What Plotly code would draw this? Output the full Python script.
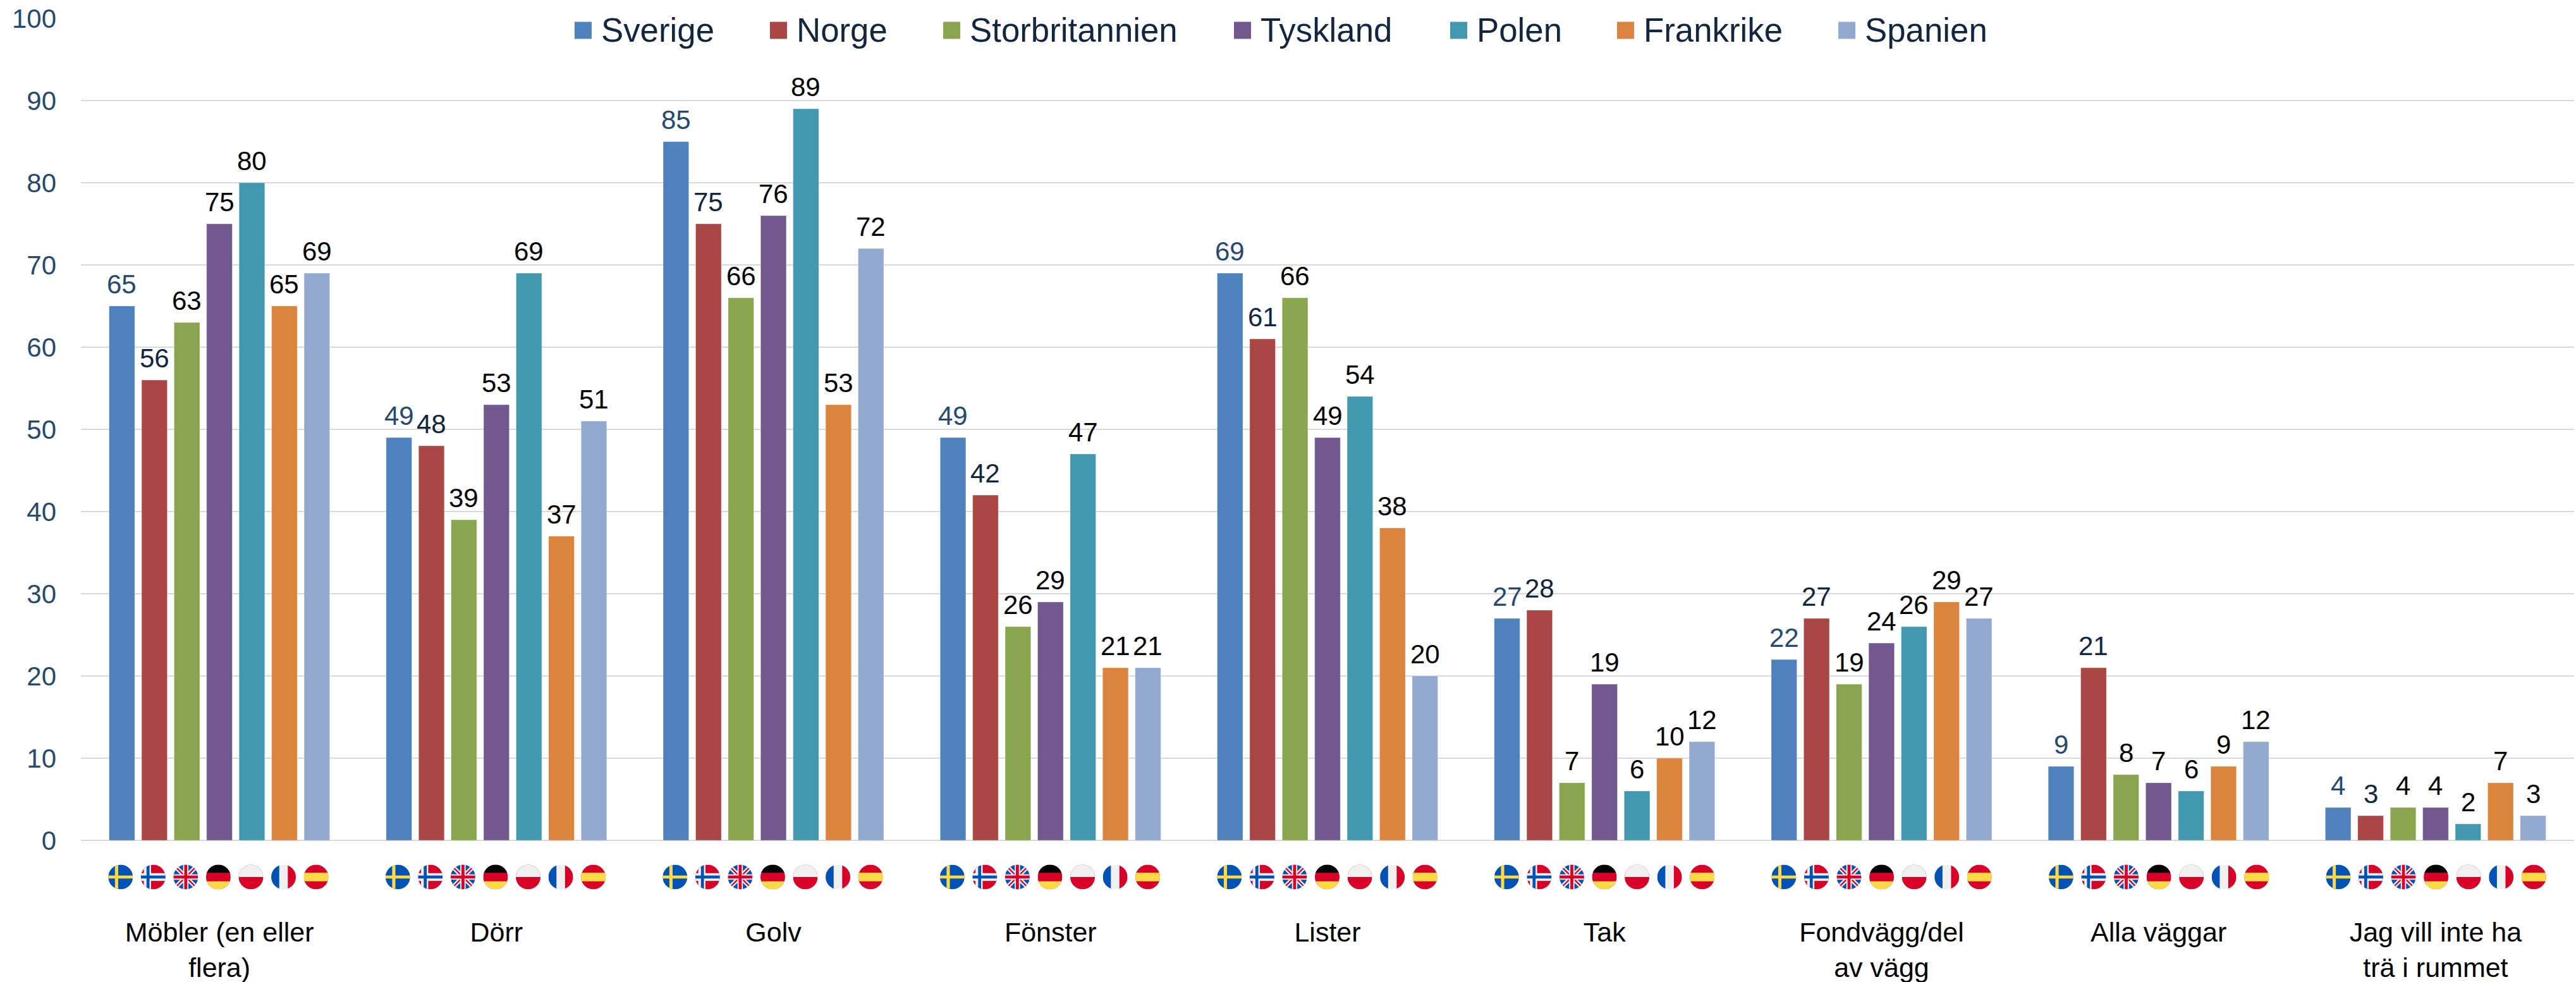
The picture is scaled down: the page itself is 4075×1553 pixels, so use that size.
import base64
import plotly.graph_objects as go

categories = ["Möbler (en eller<br>flera)", "Dörr", "Golv", "Fönster", "Lister", "Tak",
              "Fondvägg/del<br>av vägg", "Alla väggar", "Jag vill inte ha<br>trä i rummet"]
sverige = [65, 49, 85, 49, 69, 27, 22, 9, 4]
norge = [56, 48, 75, 42, 61, 28, 27, 21, 3]
storbritannien = [63, 39, 66, 26, 66, 7, 19, 8, 4]
tyskland = [75, 53, 76, 29, 49, 19, 24, 7, 4]
polen = [80, 69, 89, 47, 54, 6, 26, 6, 2]
frankrike = [65, 37, 53, 21, 38, 10, 29, 9, 7]
spanien = [69, 51, 72, 21, 20, 12, 27, 12, 3]
series_names = ["Sverige", "Norge", "Storbritannien", "Tyskland", "Polen", "Frankrike", "Spanien"]
series_values = [sverige, norge, storbritannien, tyskland, polen, frankrike, spanien]
colors = ["#4F81BD", "#AA4644", "#89A54E", "#71588F", "#4198AF", "#DB843D", "#93A9CF"]
label_colors = ["#264A6E", "#12263F", "#000000", "#000000", "#000000", "#000000", "#000000"]
tick_values = [0, 10, 20, 30, 40, 50, 60, 70, 80, 90, 100]

W, H = 4075, 1553
L, R, T, B = 128.1, 4071.9, 28.5, 1329.3
PW, PH = R - L, B - T
GROUP = PW / len(categories)
SLOT = 51.4


def svg_uri(body):
    svg = ('<svg xmlns="http://www.w3.org/2000/svg" width="512" height="512" viewBox="0 0 512 512">'
           '<defs><clipPath id="c"><circle cx="256" cy="256" r="256"/></clipPath></defs>'
           '<g clip-path="url(#c)">' + body + '</g></svg>')
    return "data:image/svg+xml;base64," + base64.b64encode(svg.encode()).decode()


BL, YE, RE, LI = "#0052B4", "#FFDA44", "#D80027", "#F0F0F0"
flags = [
    svg_uri(f'<rect width="512" height="512" fill="{BL}"/><rect x="139" width="67" height="512" fill="{YE}"/>'
            f'<rect y="225" width="512" height="62" fill="{YE}"/>'),
    svg_uri(f'<rect width="512" height="512" fill="{RE}"/><rect x="62" width="150" height="512" fill="{LI}"/>'
            f'<rect y="175" width="512" height="162" fill="{LI}"/><rect x="118" width="62" height="512" fill="{BL}"/>'
            f'<rect y="225" width="512" height="62" fill="{BL}"/>'),
    svg_uri(f'<rect width="512" height="512" fill="{BL}"/>'
            f'<path d="M0 0L512 512M512 0L0 512" stroke="{LI}" stroke-width="90"/>'
            f'<path d="M0 0L512 512M512 0L0 512" stroke="{RE}" stroke-width="30"/>'
            f'<rect x="200" width="112" height="512" fill="{LI}"/><rect y="200" width="512" height="112" fill="{LI}"/>'
            f'<rect x="225" width="62" height="512" fill="{RE}"/><rect y="225" width="512" height="62" fill="{RE}"/>'),
    svg_uri(f'<rect width="512" height="512" fill="{RE}"/><rect width="512" height="167" fill="#000"/>'
            f'<rect y="345" width="512" height="167" fill="{YE}"/>'),
    svg_uri(f'<rect width="512" height="512" fill="{RE}"/><rect width="512" height="256" fill="{LI}"/>'),
    svg_uri(f'<rect width="512" height="512" fill="{LI}"/><rect width="167" height="512" fill="{BL}"/>'
            f'<rect x="345" width="167" height="512" fill="{RE}"/>'),
    svg_uri(f'<rect width="512" height="512" fill="{RE}"/><rect y="167" width="512" height="178" fill="{YE}"/>'),
]

fig = go.Figure()
for name, vals, col in zip(series_names, series_values, colors):
    fig.add_trace(go.Bar(name=name, x=categories, y=vals, marker=dict(
        color=col, line=dict(color="rgba(255,255,255,0.35)", width=1))))

annotations = []
for j, (vals, lc) in enumerate(zip(series_values, label_colors)):
    for i, v in enumerate(vals):
        annotations.append(dict(
            x=i, y=v, xref="x", yref="y", text=str(v), showarrow=False, yanchor="bottom",
            xshift=(j - 3) * SLOT, yshift=9, font=dict(size=42, color=lc, family="Liberation Sans")))

legend_px = [909, 1218, 1492, 1952, 2294, 2558, 2908]
shapes = []
for name, col, px in zip(series_names, colors, legend_px):
    shapes.append(dict(type="rect", xref="paper", yref="paper",
                       x0=(px - L) / PW, x1=(px + 27 - L) / PW,
                       y0=(B - 61) / PH, y1=(B - 34) / PH,
                       fillcolor=col, line=dict(width=0), layer="above"))
    annotations.append(dict(x=(px + 40 - L) / PW, y=(B - 47) / PH, xref="paper", yref="paper",
                            text=name, showarrow=False, xanchor="left", yanchor="middle",
                            font=dict(size=52.8, color="#12263F", family="Liberation Sans")))

images = []
for i in range(len(categories)):
    for j, src in enumerate(flags):
        images.append(dict(source=src, xref="x", yref="paper",
                           x=i * 438.5 / GROUP - 1.7 / GROUP + (j - 3) * 51.55 / GROUP,
                           y=(B - 1387.3) / PH, sizex=39 / GROUP, sizey=39 / PH,
                           xanchor="center", yanchor="middle", sizing="stretch", layer="above"))

fig.update_layout(
    width=W, height=H, autosize=False,
    margin=dict(l=L, r=W - R, t=T, b=H - B, pad=0, autoexpand=False),
    paper_bgcolor="white", plot_bgcolor="white",
    barmode="group", bargap=1 - 7 * SLOT / GROUP, bargroupgap=1 - 40.6 / SLOT,
    showlegend=False,
    font=dict(family="Liberation Sans", size=42, color="#000000"),
    annotations=annotations, shapes=shapes, images=images,
    xaxis=dict(type="category", categoryorder="array", categoryarray=categories, showgrid=False,
               showline=False, zeroline=False, ticks="", tickangle=0, ticklabelstandoff=116,
               automargin=False,
               tickfont=dict(size=43, color="#000000", family="Liberation Sans")),
    yaxis=dict(range=[0, 100], tickvals=tick_values, showgrid=True, gridcolor="#D9D9D9", gridwidth=2,
               zeroline=True, zerolinecolor="#D9D9D9", zerolinewidth=2, showline=False, ticks="",
               automargin=False,
               ticklabelstandoff=38, tickfont=dict(size=42, color="#264A6E", family="Liberation Sans")),
)

fig.write_html("out.html", config=dict(displayModeBar=False),
               post_script="document.body.style.margin='0';document.documentElement.style.overflow='hidden';")
